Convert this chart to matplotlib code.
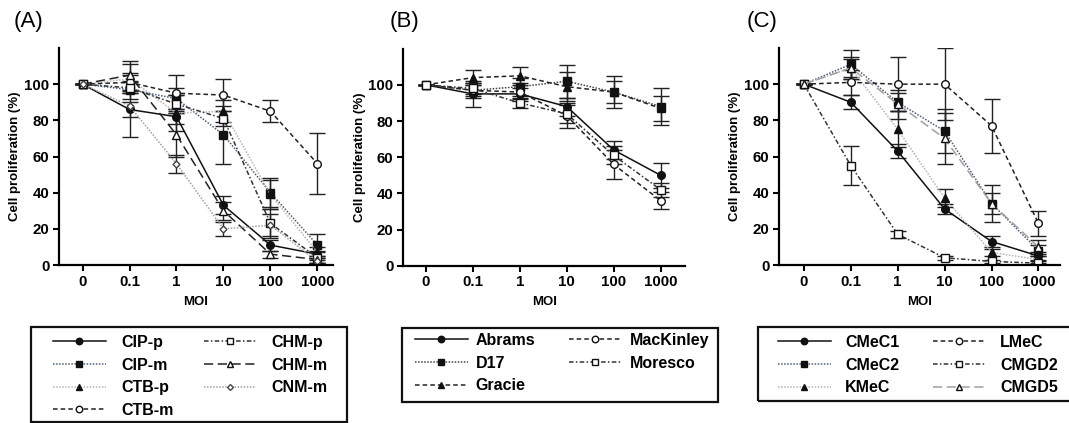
import numpy as np
import matplotlib
matplotlib.use("Agg")
import matplotlib.pyplot as plt
from matplotlib.patches import Rectangle

plt.rcParams['font.family'] = ['Liberation Sans', 'DejaVu Sans']

moi_labels = ['0', '0.1', '1', '10', '100', '1000']

# panel A
cip_p = [100, 86, 82, 33, 11, 6]
cip_p_err = [0, 4, 4, 5, 3, 2]
cip_m = [100, 97, 92, 72, 40, 11]
cip_m_err = [0, 5, 6, 16, 8, 6]
ctb_p = [100, 103, 84, 85, 39, 7]
ctb_p_err = [0, 8, 10, 6, 8, 3]
ctb_m = [100, 101, 95, 94, 85, 56]
ctb_m_err = [0, 5, 10, 9, 6, 17]
chm_p = [100, 98, 89, 81, 23, 4]
chm_p_err = [0, 3, 5, 4, 8, 3]
chm_m = [100, 105, 72, 30, 6, 3]
chm_m_err = [0, 8, 12, 5, 2, 2]
cnm_m = [100, 88, 56, 20, 22, 2]
cnm_m_err = [0, 17, 5, 4, 6, 1]

# panel B
abrams = [100, 95, 95, 88, 64, 50]
abrams_err = [0, 7, 3, 5, 5, 7]
d17 = [100, 97, 99, 102, 96, 88]
d17_err = [0, 4, 5, 9, 9, 10]
gracie = [100, 104, 105, 99, 96, 87]
gracie_err = [0, 4, 5, 8, 6, 7]
mackinley = [100, 97, 96, 83, 56, 36]
mackinley_err = [0, 3, 5, 7, 8, 4.5]
moresco = [100, 98, 90, 84, 61, 42]
moresco_err = [0, 3, 3, 5, 5, 4]

# panel C
cmec1 = [100, 90, 63, 31, 13, 5]
cmec1_err = [0, 4, 4, 3, 3, 2]
cmec2 = [100, 111, 90, 74, 34, 8]
cmec2_err = [0, 8, 5, 12, 6, 3]
kmec = [100, 109, 75, 37, 7, 3]
kmec_err = [0, 6, 10, 5, 2, 2]
lmec = [100, 101, 100, 100, 77, 23]
lmec_err = [0, 7, 15, 20, 15, 7]
cmgd2 = [100, 55, 17, 4, 2, 1]
cmgd2_err = [0, 11, 2, 1, 1, 1]
cmgd5 = [100, 109, 89, 70, 34, 10]
cmgd5_err = [0, 5, 8, 14, 10, 4]

solid = '-'
dotted = (0, (1, 1))
dashed = (0, (3, 2))
dashdot = (0, (3, 1.5, 1, 1.5))
longdash = (0, (6, 3))

panels = [
    ('(A)', [
        ('CIP-p', cip_p, cip_p_err, solid, 'o', True, '#111111'),
        ('CIP-m', cip_m, cip_m_err, dotted, 's', True, '#4d5d78'),
        ('CTB-p', ctb_p, ctb_p_err, dotted, '^', True, '#b5b5b5'),
        ('CTB-m', ctb_m, ctb_m_err, dashed, 'o', False, '#222222'),
        ('CHM-p', chm_p, chm_p_err, dashdot, 's', False, '#333333'),
        ('CHM-m', chm_m, chm_m_err, longdash, '^', False, '#222222'),
        ('CNM-m', cnm_m, cnm_m_err, dotted, 'D', False, '#a0a0a0'),
    ], (-0.5, 5.33)),
    ('(B)', [
        ('Abrams', abrams, abrams_err, solid, 'o', True, '#111111'),
        ('D17', d17, d17_err, dotted, 's', True, '#444444'),
        ('Gracie', gracie, gracie_err, dashed, '^', True, '#222222'),
        ('MacKinley', mackinley, mackinley_err, dashed, 'o', False, '#222222'),
        ('Moresco', moresco, moresco_err, dashdot, 's', False, '#333333'),
    ], (-0.48, 5.52)),
    ('(C)', [
        ('CMeC1', cmec1, cmec1_err, solid, 'o', True, '#111111'),
        ('CMeC2', cmec2, cmec2_err, dotted, 's', True, '#4d5d78'),
        ('KMeC', kmec, kmec_err, dotted, '^', True, '#b5b5b5'),
        ('LMeC', lmec, lmec_err, dashed, 'o', False, '#222222'),
        ('CMGD2', cmgd2, cmgd2_err, dashdot, 's', False, '#333333'),
        ('CMGD5', cmgd5, cmgd5_err, longdash, '^', False, '#a0a0a0'),
    ], (-0.53, 5.46)),
]

W, H = 1069, 423
axes_pos = [
    [0.0552, 0.3735, 0.2563, 0.513],
    [0.3773, 0.3719, 0.2635, 0.513],
    [0.7287, 0.3735, 0.2629, 0.513],
]
label_x = [14, 390, 747]
# legend frame (x0, y0, x1, y1) in pixels from top-left, legend anchor, textpad, colspacing
leg_layout = [
    ((31, 327, 347, 422), (53, 333), 0.95, 1.9),
    ((402, 328, 718, 402), (415, 331), 0.5, 2.1),
    ((758, 327, 1075, 401), (778, 333), 0.9, 2.1),
]

fig = plt.figure(figsize=(10.69, 4.23), dpi=100)
x = np.arange(len(moi_labels))

for (title, series, xlim), pos, lx, (box, anchor, tpad, cspace) in zip(panels, axes_pos, label_x, leg_layout):
    ax = fig.add_axes(pos)
    handles = []
    for name, vals, errs, ls, mk, filled, col in series:
        h = ax.errorbar(x, vals, yerr=errs, color=col, linestyle=ls, linewidth=1.1,
                        marker=mk, markersize=5.5 if mk != 'D' else 3.5,
                        markerfacecolor='#111111' if filled else 'white',
                        markeredgecolor='#111111' if mk != 'D' else '#444444',
                        markeredgewidth=1.0, ecolor='#222222', elinewidth=1.0,
                        capsize=6, capthick=1.0, label=name)
        handles.append(h[0])
    ax.set_xlim(*xlim)
    ax.set_ylim(0, 120)
    ax.set_yticks([0, 20, 40, 60, 80, 100])
    ax.set_xticks(x)
    ax.set_xticklabels(moi_labels)
    for s in ['top', 'right']:
        ax.spines[s].set_visible(False)
    for s in ['left', 'bottom']:
        ax.spines[s].set_linewidth(1.6)
    ax.tick_params(width=1.5, length=4, labelsize=10.8, pad=3)
    for t in ax.get_xticklabels() + ax.get_yticklabels():
        t.set_fontweight('bold')
    ax.set_xlabel('MOI', fontsize=9.5, fontweight='bold', labelpad=5)
    ax.set_ylabel('Cell proliferation (%)', fontsize=9.5, fontweight='bold', labelpad=2)
    fig.text(lx / W, 0.975, title, fontsize=16, va='top', ha='left')

    x0, y0, x1, y1 = box
    fig.patches.append(Rectangle((x0 / W, 1 - y1 / H), (x1 - x0) / W, (y1 - y0) / H,
                                 transform=fig.transFigure, fill=False,
                                 edgecolor='#111111', linewidth=1.6))
    fig.legend(handles, [s[0] for s in series], ncol=2, loc='upper left',
               bbox_to_anchor=(anchor[0] / W, 1 - (anchor[1] + 2) / H),
               bbox_transform=fig.transFigure, frameon=False,
               borderpad=0, borderaxespad=0, handlelength=3.3, markerscale=0.85,
               handletextpad=tpad, labelspacing=0.48, columnspacing=cspace,
               prop={'weight': 'bold', 'size': 11.5})

fig.savefig('out.png', dpi=100)
